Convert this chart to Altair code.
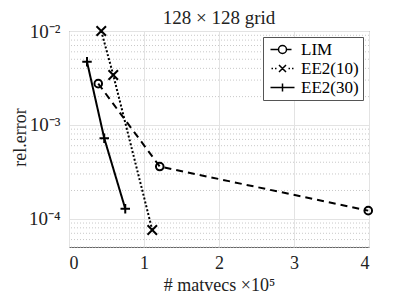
import altair as alt
import pandas as pd

series = ["LIM", "EE2(10)", "EE2(30)"]
lim_x = [0.39, 1.21, 3.99]
lim_y = [2.75e-3, 3.6e-4, 1.22e-4]
ee10_x = [0.43, 0.59, 1.11]
ee10_y = [1.0e-2, 3.4e-3, 7.6e-5]
ee30_x = [0.24, 0.47, 0.75]
ee30_y = [4.7e-3, 7.2e-4, 1.28e-4]

x_ticks = [0, 1, 2, 3, 4]
y_ticks = [1e-4, 1e-3, 1e-2]
y_minor = [5e-5, 6e-5, 7e-5, 8e-5, 9e-5,
           2e-4, 3e-4, 4e-4, 5e-4, 6e-4, 7e-4, 8e-4, 9e-4,
           2e-3, 3e-3, 4e-3, 5e-3, 6e-3, 7e-3, 8e-3, 9e-3]

rows = []
for name, xs, ys in zip(series, [lim_x, ee10_x, ee30_x], [lim_y, ee10_y, ee30_y]):
    for a, b in zip(xs, ys):
        rows.append({"series": name, "x": a, "y": b})
df = pd.DataFrame(rows)
df_minor = pd.DataFrame({"y": y_minor})

FONT = "Liberation Serif"

circle = "M0.8,0A0.8,0.8 0 1,1 -0.8,0A0.8,0.8 0 1,1 0.8,0Z"
xmark = "M-1,-1L1,1M-1,1L1,-1"
plus = "M-1,0L1,0M0,-1L0,1"

leg_lim = "M-1,0L0.6,0M2.2,0L3.2,0M2.2,0A0.8,0.8 0 1,1 0.6,0A0.8,0.8 0 1,1 2.2,0"
leg_ee10 = "M-0.8,0L-0.5,0M-0.1,0L0.2,0M0.7,-0.7L2.1,0.7M0.7,0.7L2.1,-0.7M2.6,0L2.9,0M3.3,0L3.6,0"
leg_ee30 = "M-1,0L3.8,0M1.4,-0.8L1.4,0.8"

yscale = alt.Scale(type="log", domain=[5e-5, 1e-2], nice=False)

xenc = alt.X("x:Q", scale=alt.Scale(domain=[0, 4], nice=False),
             axis=alt.Axis(values=x_ticks, title="# matvecs ×10⁵", grid=True,
                           labelFont=FONT, titleFont=FONT,
                           labelFontSize=18, titleFontSize=18, labelPadding=7,
                           titlePadding=4, ticks=False, domain=False))
yenc = alt.Y("y:Q", scale=yscale,
             axis=alt.Axis(values=y_ticks, title="rel.error", grid=True,
                           labelFont=FONT, titleFont=FONT,
                           labelExpr="datum.value > 0.005 ? '10⁻²' : datum.value > 0.0005 ? '10⁻³' : '10⁻⁴'",
                           labelFontSize=19, titleFontSize=18, labelPadding=9,
                           titleX=-40, titleY=106, titleBaseline="bottom",
                           ticks=False, domain=False))

minor = alt.Chart(df_minor).mark_rule(color="#c8c8c8", strokeDash=[1, 2], strokeWidth=1).encode(
    y=yenc
)

lines = alt.Chart(df).mark_line(color="black", strokeWidth=2).encode(
    x=xenc, y=yenc,
    strokeDash=alt.StrokeDash("series:N", scale=alt.Scale(domain=series, range=[[7, 5], [2, 2], [1, 0]]), legend=None),
)

points = alt.Chart(df).mark_point(filled=False, color="black", strokeWidth=2, size=90, opacity=1).encode(
    x=xenc, y=yenc,
    shape=alt.Shape("series:N", scale=alt.Scale(domain=series, range=[circle, xmark, plus]), legend=None),
)

legend_layer = alt.Chart(df).mark_point(filled=False, color="black", strokeWidth=1.5, opacity=1).encode(
    shape=alt.Shape("series:N", scale=alt.Scale(domain=series, range=[leg_lim, leg_ee10, leg_ee30]),
                    legend=alt.Legend(title=None, orient="top-right", offset=6, symbolSize=100,
                                      symbolStrokeWidth=1.5, symbolStrokeColor="black",
                                      labelFont=FONT, labelFontSize=17, labelOffset=17,
                                      padding=4, rowPadding=1, strokeColor="#555",
                                      fillColor="white", cornerRadius=0)),
).transform_filter("false")

chart = alt.layer(minor, lines, points, legend_layer).resolve_scale(shape="independent").properties(
    width=300, height=216,
    title=alt.TitleParams("128 × 128 grid", font=FONT, fontSize=19, fontWeight="normal", offset=6,
                          frame="group", color="#222", dy=12),
    autosize=alt.AutoSizeParams(type="none"),
    padding={"left": 61, "top": 23, "right": 30, "bottom": 50},
    background="white",
).configure_view(stroke="#666", strokeWidth=1).configure_axis(
    labelColor="#222", titleColor="#222",
    titleFontWeight="normal", gridColor="#e3e3e3", gridWidth=1,
)

chart.save("out.html", embed_options={"renderer": "svg", "actions": False})
